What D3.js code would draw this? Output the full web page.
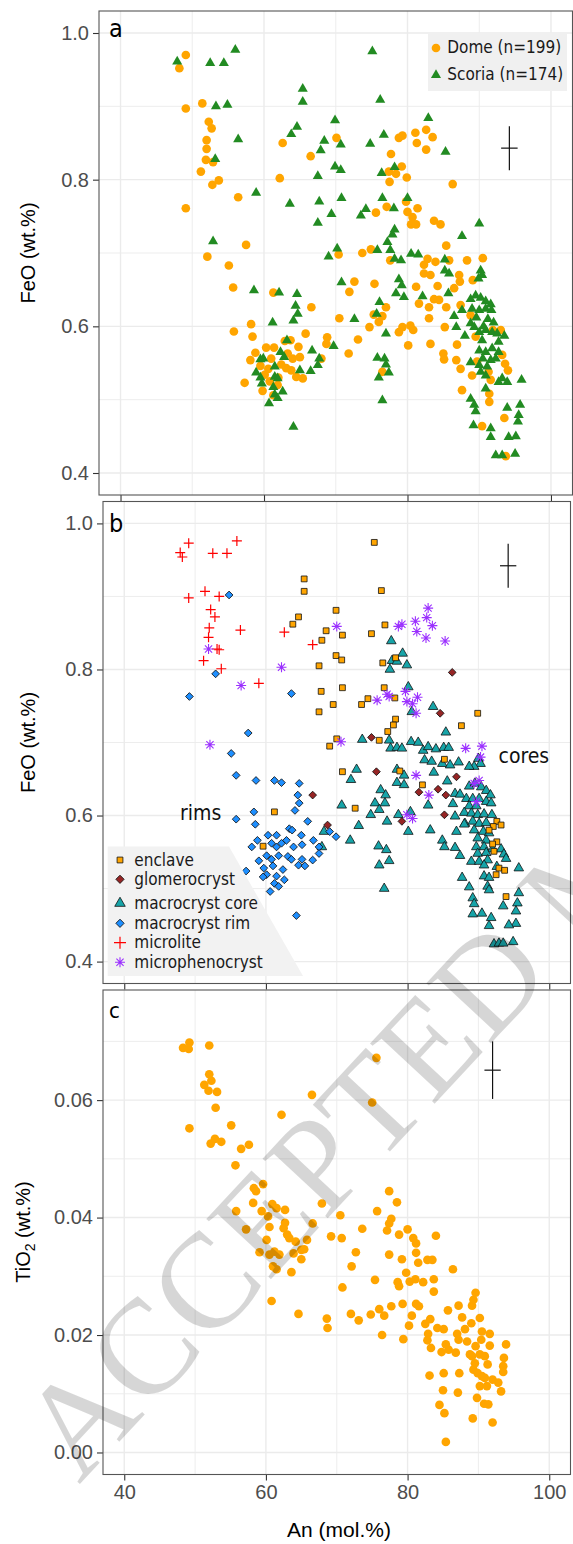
<!DOCTYPE html>
<html><head><meta charset="utf-8">
<script src="https://cdn.jsdelivr.net/npm/d3@7"></script>
<style>body{margin:0;background:#fff}</style>
</head><body>
<svg id="chart" width="573" height="1544"></svg>
<script>
// ---------- tick values ----------
const xTicks=[40,60,80,100], xMinor=[50,70,90];
const feoTicks=[0.4,0.6,0.8,1.0], feoMinor=[0.5,0.7,0.9];
const tiTicks=[0,0.02,0.04,0.06], tiMinor=[0.01,0.03,0.05,0.07];

// ---------- panel a: [An, FeO] ----------
const dome=[[49.1,0.970],[48.2,0.952],[49.1,0.897],[51.4,0.904],[52.3,0.879],[52.7,0.870],[52.0,0.854],[52.0,0.842],[51.9,0.827],[52.9,0.824],[51.2,0.811],[52.8,0.793],[53.7,0.799],[49.1,0.761],[56.4,0.776],[62.6,0.850],[66.5,0.832],[62.2,0.802],[57.5,0.711],[52.1,0.695],[55.1,0.683],[55.7,0.653],[61.3,0.646],[66.6,0.626],[58.2,0.603],[55.8,0.593],[58.4,0.586],[70.1,0.857],[70.5,0.611],[70.4,0.698],
[65.8,0.590],[68.8,0.585],[68.7,0.576],[64.8,0.572],[63.7,0.581],[62.9,0.580],[60.3,0.571],[61.4,0.571],[58.8,0.564],[58.1,0.554],[61.0,0.556],[64.0,0.556],[65.0,0.558],[68.0,0.556],[63.1,0.543],[63.8,0.540],[60.6,0.542],[60.1,0.534],[64.5,0.531],[65.4,0.529],[57.3,0.523],[59.8,0.512],[61.9,0.520],[61.3,0.506],[62.4,0.548],[59.5,0.546],[62.0,0.530],[63.3,0.563],[60.8,0.525],
[71.9,0.647],[72.6,0.661],[71.8,0.563],[73.7,0.700],[74.9,0.705],[75.6,0.755],[77.1,0.763],[77.7,0.835],[77.4,0.811],[77.5,0.797],[78.4,0.808],[79.2,0.818],[79.9,0.803],[78.8,0.857],[79.3,0.860],[81.1,0.864],[81.3,0.850],[82.6,0.868],[83.5,0.858],[82.6,0.841],[86.3,0.794],[79.8,0.770],[81.4,0.761],[80.0,0.756],[80.7,0.749],[80.5,0.739],[81.2,0.739],[83.7,0.744],[84.6,0.739],[85.4,0.710],[77.6,0.690],[82.8,0.692],[83.9,0.688],[82.3,0.684],[82.3,0.672],[83.2,0.670],[85.8,0.690],[88.3,0.690],[90.5,0.693],[87.2,0.670],[87.3,0.661],[89.1,0.663],[81.2,0.654],[84.2,0.655],[86.5,0.652],[75.4,0.658],[77.0,0.626],[76.5,0.614],[75.3,0.616],[76.0,0.606],[81.6,0.631],[83.0,0.626],[83.7,0.637],[84.4,0.636],[85.4,0.626],[83.0,0.611],[87.4,0.629],[88.8,0.615],[74.7,0.599],[78.8,0.592],[79.3,0.599],[80.4,0.601],[80.8,0.595],[73.1,0.582],[80.1,0.574],[83.2,0.576],[85.2,0.599],[86.9,0.575],[85.0,0.563],[85.1,0.555],[86.8,0.554],[87.4,0.542],[89.0,0.533],[87.6,0.513],[89.7,0.552],[91.3,0.538],[91.6,0.527],[91.4,0.508],[91.4,0.497],[90.4,0.464],[93.5,0.475],[93.7,0.423],[93.2,0.561],[93.6,0.549],[94.0,0.540],[91.9,0.595],[93.0,0.595],[89.5,0.586],[76.5,0.538]];
const scoria=[[47.9,0.961],[52.5,0.959],[54.4,0.959],[56.0,0.977],[53.3,0.900],[54.9,0.902],[56.4,0.855],[53.2,0.828],[58.9,0.782],[52.9,0.716],[65.4,0.924],[65.4,0.906],[64.6,0.872],[63.8,0.862],[68.4,0.853],[67.9,0.840],[69.9,0.881],[70.7,0.848],[69.9,0.818],[70.7,0.813],[67.5,0.805],[63.6,0.767],[67.7,0.770],[69.4,0.753],[70.8,0.775],[67.5,0.741],[70.2,0.706],[69.0,0.695],[70.8,0.660],[58.6,0.649],[62.1,0.646],[64.6,0.644],[64.4,0.628],[64.7,0.617],[64.1,0.608],[61.2,0.605],[63.2,0.581],[66.7,0.567],[69.7,0.573],[67.7,0.556],[67.5,0.547],[66.5,0.539],[65.0,0.540],[59.9,0.556],[59.5,0.555],[62.3,0.565],[62.8,0.558],[61.5,0.545],[58.9,0.537],[59.5,0.530],[59.7,0.522],[61.5,0.531],[61.9,0.529],[61.3,0.517],[62.6,0.511],[61.5,0.507],[61.9,0.502],[60.7,0.495],[64.1,0.463],
[75.1,0.975],[76.2,0.909],[82.9,0.884],[76.7,0.861],[74.8,0.849],[85.3,0.838],[78.2,0.817],[76.4,0.809],[76.5,0.775],[80.0,0.775],[78.1,0.761],[74.2,0.760],[73.5,0.751],[90.0,0.740],[87.6,0.723],[78.2,0.732],[77.9,0.725],[77.2,0.715],[77.6,0.704],[75.8,0.704],[78.2,0.692],[79.1,0.690],[80.5,0.699],[81.5,0.698],[85.2,0.691],[85.2,0.676],[85.8,0.672],[90.2,0.676],[90.4,0.670],[89.9,0.665],[78.8,0.664],[79.2,0.656],[79.5,0.640],[78.4,0.645],[82.1,0.641],[85.7,0.645],[76.1,0.633],[75.7,0.617],[72.6,0.610],[77.0,0.590],[75.8,0.557],[76.8,0.556],[77.0,0.548],[77.4,0.537],[76.0,0.530],[76.5,0.499],[86.5,0.614],[86.8,0.599],[87.6,0.622],[88.0,0.587],
[88.8,0.637],[89.5,0.642],[90.2,0.639],[90.9,0.634],[91.6,0.630],[89.0,0.624],[90.0,0.622],[90.9,0.624],[91.7,0.622],[88.8,0.604],[89.3,0.599],[90.0,0.592],[90.9,0.595],[91.8,0.592],[92.5,0.590],[93.5,0.587],[92.7,0.579],[90.4,0.581],[90.0,0.567],[90.9,0.565],[91.8,0.570],[92.7,0.565],[90.5,0.556],[91.6,0.554],[92.3,0.556],[90.0,0.547],[91.1,0.545],[90.2,0.538],[90.9,0.533],[88.8,0.551],[93.2,0.529],[92.7,0.524],[93.9,0.524],[95.9,0.527],[90.9,0.515],[88.8,0.501],[89.3,0.493],[89.5,0.484],[89.2,0.465],[91.6,0.461],[91.6,0.449],[93.9,0.489],[95.7,0.493],[95.5,0.479],[95.4,0.470],[95.1,0.450],[94.1,0.449],[92.3,0.424],[93.2,0.424],[95.0,0.426],[89.6,0.612],[91.2,0.610],[90.6,0.600],[92.0,0.605]];

// ---------- panel b: [An, FeO] by crystal type ----------
const enclave=[[65.4,0.924],[65.4,0.907],[64.6,0.872],[63.8,0.862],[69.9,0.881],[68.5,0.853],[67.9,0.840],[69.9,0.819],[67.5,0.805],[67.8,0.770],[69.5,0.752],[67.5,0.742],[70.0,0.705],[69.0,0.695],[61.2,0.605],[59.6,0.558],[75.3,0.974],[76.3,0.908],[70.8,0.847],[70.7,0.813],[70.8,0.775],[76.8,0.861],[74.9,0.849],[78.3,0.816],[76.5,0.809],[76.7,0.775],[78.2,0.761],[74.4,0.760],[73.5,0.752],[78.3,0.732],[78.0,0.724],[77.2,0.715],[76.0,0.703],[89.9,0.740],[87.6,0.723],[85.2,0.677],[78.9,0.661],[82.1,0.642],[70.8,0.660],[72.6,0.610],[92.6,0.592],[93.2,0.587],[92.1,0.585],[91.5,0.580],[92.6,0.564],[92.0,0.561],[92.2,0.551],[92.9,0.528],[93.7,0.525],[92.5,0.519],[93.9,0.489]];
const glomerocryst=[[66.6,0.628],[68.7,0.587],[86.3,0.796],[84.6,0.740],[74.9,0.707],[75.6,0.660],[86.9,0.653],[84.3,0.636],[85.4,0.628],[81.6,0.632],[85.2,0.601],[79.2,0.592]];
const macroCore=[[77.7,0.839],[79.3,0.822],[79.9,0.806],[77.8,0.812],[78.5,0.811],[77.5,0.800],[80.1,0.776],[80.6,0.742],[83.6,0.749],[85.4,0.714],[73.6,0.704],[77.4,0.703],[77.6,0.692],[78.5,0.693],[79.2,0.692],[80.5,0.701],[81.5,0.700],[82.2,0.689],[82.9,0.694],[84.0,0.691],[85.1,0.693],[85.8,0.693],[82.4,0.676],[83.4,0.674],[84.9,0.671],[86.0,0.669],[87.2,0.673],[90.0,0.678],[90.3,0.671],[89.4,0.667],[88.7,0.667],[72.8,0.663],[72.0,0.649],[78.5,0.663],[79.5,0.655],[78.5,0.645],[79.5,0.642],[83.7,0.659],[85.6,0.647],[76.2,0.635],[76.9,0.628],[75.4,0.617],[76.8,0.617],[76.0,0.608],[74.8,0.601],[73.1,0.586],[77.1,0.592],[78.7,0.601],[80.4,0.605],[80.1,0.578],[83.2,0.580],[70.7,0.614],[71.9,0.566],[82.9,0.614],[86.7,0.630],[86.4,0.616],[86.7,0.599],[88.1,0.589],[86.9,0.578],[84.9,0.566],[85.2,0.557],[86.7,0.556],[87.4,0.545],[75.9,0.558],[77.0,0.553],[77.4,0.538],[76.0,0.532],[76.7,0.500],[87.7,0.515],[88.7,0.502],[89.2,0.487],[89.4,0.479],[89.2,0.465],[90.5,0.466],[91.8,0.460],[91.5,0.449],[95.7,0.528],[95.7,0.494],[95.5,0.480],[95.3,0.469],[93.5,0.476],[95.3,0.452],[94.3,0.450],[92.2,0.424],[92.9,0.425],[93.5,0.425],[94.9,0.427],
[88.7,0.640],[89.5,0.644],[90.4,0.639],[91.1,0.634],[91.7,0.628],[87.4,0.629],[88.3,0.623],[89.2,0.623],[90.1,0.623],[91.1,0.619],[91.8,0.617],[88.7,0.613],[89.7,0.613],[88.0,0.604],[89.0,0.603],[89.9,0.601],[90.8,0.602],[91.9,0.601],[88.0,0.588],[89.2,0.592],[90.1,0.589],[91.1,0.590],[89.4,0.580],[90.7,0.578],[91.5,0.576],[89.9,0.569],[91.1,0.566],[89.7,0.557],[90.8,0.557],[92.0,0.554],[93.2,0.554],[93.6,0.547],[93.9,0.541],[89.9,0.548],[91.1,0.549],[89.0,0.537],[90.1,0.537],[91.3,0.539],[90.8,0.532],[92.6,0.530],[90.8,0.517],[91.5,0.515],[91.3,0.503],[91.5,0.498],[68.2,0.578],[67.9,0.557]];
const macroRim=[[54.8,0.902],[52.9,0.794],[49.2,0.763],[63.6,0.767],[57.5,0.713],[55.1,0.685],[55.8,0.655],[58.6,0.648],[61.2,0.648],[62.2,0.645],[64.7,0.644],[64.5,0.628],[64.7,0.617],[64.1,0.607],[58.3,0.605],[55.8,0.595],[58.5,0.588],[65.9,0.592],[63.3,0.582],[63.7,0.580],[65.0,0.573],[66.7,0.566],[60.3,0.573],[61.5,0.573],[58.8,0.566],[58.0,0.557],[62.9,0.566],[62.2,0.562],[60.8,0.562],[61.5,0.557],[63.9,0.557],[65.1,0.560],[67.5,0.557],[69.0,0.578],[69.9,0.571],[59.0,0.538],[60.1,0.545],[60.8,0.540],[61.8,0.545],[63.1,0.544],[63.6,0.540],[65.1,0.540],[66.6,0.539],[67.5,0.548],[59.7,0.528],[60.1,0.519],[61.0,0.531],[62.4,0.526],[64.6,0.532],[65.5,0.531],[57.2,0.524],[59.6,0.516],[61.5,0.517],[62.6,0.512],[61.2,0.507],[61.8,0.503],[60.6,0.496],[64.3,0.463]];
const microlite=[[49.1,0.973],[47.9,0.960],[48.2,0.954],[52.5,0.959],[54.5,0.959],[55.9,0.976],[49.1,0.898],[51.4,0.907],[53.4,0.900],[52.2,0.882],[52.8,0.872],[56.4,0.854],[52.0,0.857],[51.9,0.844],[53.1,0.828],[53.4,0.827],[51.2,0.812],[53.7,0.801],[59.0,0.781],[62.6,0.851],[66.6,0.834]];
const microphenocryst=[[51.9,0.828],[56.5,0.778],[62.2,0.803],[52.1,0.697],[70.0,0.859],[70.6,0.701],[82.9,0.884],[82.7,0.871],[83.5,0.860],[81.1,0.866],[81.3,0.852],[79.2,0.862],[78.7,0.859],[82.6,0.843],[85.3,0.839],[77.1,0.766],[77.4,0.763],[75.7,0.758],[79.7,0.770],[81.4,0.762],[79.9,0.756],[80.7,0.753],[81.2,0.740],[88.2,0.692],[90.5,0.695],[90.3,0.680],[90.1,0.648],[89.4,0.644],[81.2,0.655],[83.0,0.628],[89.7,0.619],[80.7,0.596],[79.9,0.601]];

// ---------- panel c: [An, TiO2] ----------
const domeTiO2=[[48.3,0.0689],[49.2,0.0698],[49.1,0.0687],[52.0,0.0693],[52.0,0.0644],[52.3,0.0633],[51.3,0.0626],[51.9,0.0616],[53.1,0.0614],[52.9,0.0587],[49.2,0.0552],[55.1,0.0557],[52.2,0.0526],[52.8,0.0534],[53.7,0.0529],[56.5,0.0517],[57.6,0.0524],[55.7,0.0489],[58.3,0.0450],[59.6,0.0457],[58.6,0.0445],[58.2,0.0425],[60.9,0.0423],[61.5,0.0416],[62.7,0.0413],[59.4,0.0411],[55.8,0.0411],[60.3,0.0402],[62.7,0.0391],[62.5,0.0382],[57.2,0.0380],[60.5,0.0384],[63.0,0.0371],[63.3,0.0365],[64.2,0.0359],[65.8,0.0362],[66.6,0.0390],[67.9,0.0424],[60.1,0.0362],[60.5,0.0337],[61.2,0.0342],[61.9,0.0337],[59.1,0.0341],[63.9,0.0339],[65.0,0.0345],[65.4,0.0346],[65.0,0.0329],[61.0,0.0317],[61.5,0.0312],[63.6,0.0307],[62.2,0.0575],[66.5,0.0609],[60.8,0.0258],[64.6,0.0236],[68.6,0.0228],[68.7,0.0212],[69.2,0.0368],
[75.6,0.0672],[75.0,0.0596],[70.5,0.0404],[70.7,0.0365],[70.8,0.0281],[77.4,0.0445],[78.5,0.0426],[75.7,0.0411],[77.7,0.0398],[77.4,0.0390],[77.1,0.0378],[78.8,0.0371],[80.0,0.0380],[80.8,0.0365],[81.2,0.0356],[84.0,0.0369],[73.6,0.0381],[72.7,0.0341],[72.1,0.0317],[77.4,0.0337],[79.2,0.0329],[81.2,0.0340],[81.5,0.0323],[82.8,0.0328],[83.5,0.0328],[86.4,0.0312],[75.4,0.0294],[78.6,0.0290],[78.8,0.0283],[79.8,0.0306],[80.3,0.0291],[81.1,0.0295],[82.2,0.0290],[83.7,0.0295],[83.7,0.0274],[72.0,0.0236],[73.1,0.0225],[74.8,0.0235],[76.0,0.0244],[76.7,0.0233],[77.7,0.0249],[79.3,0.0253],[81.2,0.0253],[81.6,0.0249],[76.4,0.0200],[79.4,0.0193],[80.6,0.0233],[80.2,0.0216],[82.5,0.0219],[83.2,0.0227],[84.2,0.0212],[85.1,0.0210],[82.9,0.0202],[82.8,0.0191],[83.3,0.0178],[85.7,0.0242],[87.2,0.0250],[87.7,0.0230],[89.1,0.0250],[89.3,0.0260],[89.6,0.0272],[90.2,0.0229],[89.0,0.0220],[88.1,0.0210],[87.0,0.0202],[87.2,0.0192],[85.4,0.0184],[84.8,0.0171],[86.8,0.0170],[85.8,0.0175],[88.4,0.0189],[88.8,0.0167],[89.6,0.0181],[90.5,0.0206],[90.4,0.0192],[91.6,0.0202],[91.6,0.0182],[93.9,0.0184],[90.2,0.0167],[91.3,0.0150],[89.3,0.0141],[89.9,0.0135],[90.5,0.0130],[90.9,0.0127],[92.0,0.0124],[92.8,0.0119],[90.2,0.0113],[91.2,0.0113],[93.2,0.0104],[93.6,0.0161],[93.5,0.0147],[93.5,0.0137],[89.8,0.0093],[90.8,0.0083],[91.4,0.0082],[85.1,0.0135],[87.3,0.0135],[83.1,0.0131],[85.0,0.0106],[87.1,0.0102],[84.5,0.0081],[85.2,0.0067],[89.2,0.0058],[92.0,0.0051],[85.4,0.0018],[89.1,0.0164],[89.5,0.0152],[90.9,0.0164]];

// ---------- error bars: [An, value, ±An, ±value] ----------
const errA=[94.2,0.843,1.15,0.030];
const errB=[94.2,0.942,1.15,0.030];
const errC=[92.0,0.0651,1.15,0.0049];

// ---------- legend labels ----------
const legendA=["Dome (n=199)","Scoria (n=174)"];
const legendB=["enclave","glomerocryst","macrocryst core","macrocryst rim","microlite","microphenocryst"];

// ================= drawing =================
const svg=d3.select("#chart");
const TXT="'DejaVu Sans Condensed','DejaVu Sans',sans-serif";
const SANS="'Liberation Sans',Arial,sans-serif";
const C={orange:"#FFA500",green:"#228B22",glom:"#962525",core:"#17A4A8",rim:"#1E8FFF",red:"#FF0000",purple:"#9B30FF"};

function makePanel(p){
  const x=d3.scaleLinear().domain([37,103]).range([p.x0,p.x1]);
  const y=d3.scaleLinear().domain(p.yDom).range([p.y1,p.y0]);
  const g=svg.append("g");
  g.append("rect").attr("x",p.x0).attr("y",p.y0).attr("width",p.x1-p.x0).attr("height",p.y1-p.y0).attr("fill","#fff");
  const grid=g.append("g").attr("stroke","#EBEBEB");
  grid.selectAll(".vm").data(xMinor).join("line").attr("x1",x).attr("x2",x).attr("y1",p.y0).attr("y2",p.y1).attr("stroke-width",0.9);
  grid.selectAll(".hm").data(p.yMinor).join("line").attr("y1",y).attr("y2",y).attr("x1",p.x0).attr("x2",p.x1).attr("stroke-width",0.9);
  grid.selectAll(".vM").data(xTicks).join("line").attr("x1",x).attr("x2",x).attr("y1",p.y0).attr("y2",p.y1).attr("stroke-width",1.4);
  grid.selectAll(".hM").data(p.yTicks).join("line").attr("y1",y).attr("y2",y).attr("x1",p.x0).attr("x2",p.x1).attr("stroke-width",1.4);
  // axes
  const ay=g.append("g").attr("transform",`translate(${p.x0},0)`)
    .call(d3.axisLeft(y).tickValues(p.yTicks).tickSize(6).tickPadding(4).tickFormat(d3.format(p.fmt)));
  const ax=g.append("g").attr("transform",`translate(0,${p.y1})`)
    .call(d3.axisBottom(x).tickValues(xTicks).tickSize(6).tickPadding(4).tickFormat(p.xLabels?d3.format("d"):""));
  [ay,ax].forEach(a=>{a.select(".domain").remove();a.selectAll(".tick line").attr("stroke","#333").attr("stroke-width",1.1);
    a.selectAll(".tick text").attr("fill","#4D4D4D").attr("font-family",SANS).attr("font-size",20);});
  return {g,x,y};
}
function border(P,p){P.g.append("rect").attr("x",p.x0).attr("y",p.y0).attr("width",p.x1-p.x0).attr("height",p.y1-p.y0).attr("fill","none").attr("stroke","#555").attr("stroke-width",1.1);}
function errBar(P,e){
  const g=P.g.append("g").attr("stroke","#111").attr("stroke-width",1.2);
  g.append("line").attr("x1",P.x(e[0])).attr("x2",P.x(e[0])).attr("y1",P.y(e[1]-e[3])).attr("y2",P.y(e[1]+e[3]));
  g.append("line").attr("x1",P.x(e[0]-e[2])).attr("x2",P.x(e[0]+e[2])).attr("y1",P.y(e[1])).attr("y2",P.y(e[1]));
}
const symPath=(t,s)=>d3.symbol().type(t).size(s)();
const plusPath="M-5,0H5M0,-5V5";
const starPath="M-5,0H5M0,-5V5M-3.6,-3.6L3.6,3.6M-3.6,3.6L3.6,-3.6";
function pts(P,data,path,attrs,rot){
  const s=P.g.append("g").selectAll("path").data(data).join("path")
    .attr("d",path).attr("transform",d=>`translate(${P.x(d[0])},${P.y(d[1])})${rot?" rotate(45)":""}`);
  Object.entries(attrs).forEach(([k,v])=>s.attr(k,v));
}
function yTitle(x,cy,parts){
  const t=svg.append("text").attr("transform",`translate(${x},${cy}) rotate(-90)`).attr("text-anchor","middle")
    .attr("font-family",SANS).attr("font-size",20).attr("fill","#000");
  parts.forEach(([s,sub])=>{ if(sub) t.append("tspan").attr("font-size",14).attr("dy",5).text(s);
    else t.append("tspan").attr("dy",sub===false?-5:0).text(s);});
}

// ----- panel a -----
const pa={x0:99,x1:572.5,y0:11,y1:495,yDom:[0.37,1.03],yTicks:feoTicks,yMinor:feoMinor,fmt:".1f",xLabels:false};
const A=makePanel(pa);
pts(A,dome,symPath(d3.symbolCircle,59),{fill:C.orange});
pts(A,scoria,symPath(d3.symbolTriangle,44),{fill:C.green});
errBar(A,errA);
A.g.append("rect").attr("x",428).attr("y",32.5).attr("width",139).attr("height",58.5).attr("fill","#F0F0F0");
A.g.append("path").attr("d",symPath(d3.symbolCircle,59)).attr("transform","translate(436,48)").attr("fill",C.orange);
A.g.append("path").attr("d",symPath(d3.symbolTriangle,44)).attr("transform","translate(436,75)").attr("fill",C.green);
A.g.selectAll(".lt").data(legendA).join("text").attr("x",447.3).attr("y",(d,i)=>[52.7,80.3][i])
  .attr("font-family",TXT).attr("font-size",17).attr("fill","#1a1a1a").text(d=>d);
border(A,pa);
A.g.append("text").attr("x",109).attr("y",37).attr("font-family",TXT).attr("font-size",25).text("a");
yTitle(34.5,253,[["FeO (wt.%)"]]);

// ----- panel b -----
const pb={x0:103,x1:570.5,y0:501.5,y1:983.5,yDom:[0.37,1.03],yTicks:feoTicks,yMinor:feoMinor,fmt:".1f",xLabels:false};
const B=makePanel(pb);
const bStroke={stroke:"#111","stroke-width":0.8};
pts(B,macroCore,symPath(d3.symbolTriangle,40),{fill:C.core,...bStroke});
pts(B,macroRim,symPath(d3.symbolSquare,30),{fill:C.rim,...bStroke},true);
pts(B,glomerocryst,symPath(d3.symbolSquare,30),{fill:C.glom,...bStroke},true);
pts(B,enclave,symPath(d3.symbolSquare,34),{fill:C.orange,...bStroke});
pts(B,microlite,plusPath,{fill:"none",stroke:C.red,"stroke-width":1.2});
pts(B,microphenocryst,starPath,{fill:"none",stroke:C.purple,"stroke-width":1.1});
errBar(B,errB);
B.g.append("text").attr("x",180).attr("y",820).attr("font-family",TXT).attr("font-size",21).attr("fill","#111").text("rims");
B.g.append("text").attr("x",498.5).attr("y",762.7).attr("font-family",TXT).attr("font-size",21).attr("fill","#111").text("cores");
// legend
B.g.append("path").attr("d","M107.7,846.5L229,846.5L303,976L107.7,976Z").attr("fill","#F2F2F2");
const legY=[860,879.3,903.3,923.3,942.7,962.3];
const legSym=[
  {d:symPath(d3.symbolSquare,34),a:{fill:C.orange,...bStroke}},
  {d:symPath(d3.symbolSquare,34),a:{fill:C.glom,...bStroke},r:true},
  {d:symPath(d3.symbolTriangle,48),a:{fill:C.core,...bStroke}},
  {d:symPath(d3.symbolSquare,34),a:{fill:C.rim,...bStroke},r:true},
  {d:plusPath.replace(/5/g,"6"),a:{fill:"none",stroke:C.red,"stroke-width":1.2}},
  {d:starPath,a:{fill:"none",stroke:C.purple,"stroke-width":1.1}}];
legendB.forEach((lab,i)=>{
  const s=B.g.append("path").attr("d",legSym[i].d).attr("transform",`translate(120,${legY[i]})${legSym[i].r?" rotate(45)":""}`);
  Object.entries(legSym[i].a).forEach(([k,v])=>s.attr(k,v));
  B.g.append("text").attr("x",134.3).attr("y",legY[i]+5.5).attr("font-family",TXT).attr("font-size",17).attr("fill","#1a1a1a").text(lab);
});
border(B,pb);
B.g.append("text").attr("x",109).attr("y",531.5).attr("font-family",TXT).attr("font-size",25).text("b");
yTitle(34.5,742.5,[["FeO (wt.%)"]]);

// ----- panel c -----
const pc={x0:103,x1:570.5,y0:990,y1:1474.5,yDom:[-0.00375,0.07875],yTicks:tiTicks,yMinor:tiMinor,fmt:".2f",xLabels:true};
const Cp=makePanel(pc);
pts(Cp,domeTiO2,symPath(d3.symbolCircle,59),{fill:C.orange});
errBar(Cp,errC);
border(Cp,pc);
Cp.g.append("text").attr("x",109).attr("y",1018).attr("font-family",TXT).attr("font-size",22).text("c");
yTitle(29.5,1232,[["TiO"],["2",true],[" (wt.%)",false]]);
svg.append("text").attr("x",339).attr("y",1536.5).attr("text-anchor","middle").attr("font-family",SANS).attr("font-size",21).text("An (mol.%)");

// ----- watermark -----
svg.append("text").attr("transform","translate(79,1485) rotate(-47)").attr("font-family","'Liberation Serif','Times New Roman',serif")
  .attr("font-size",135).attr("fill","#000").attr("fill-opacity",0.16).text("ACCEPTED MANUSCRIPT");
</script>
</body></html>
